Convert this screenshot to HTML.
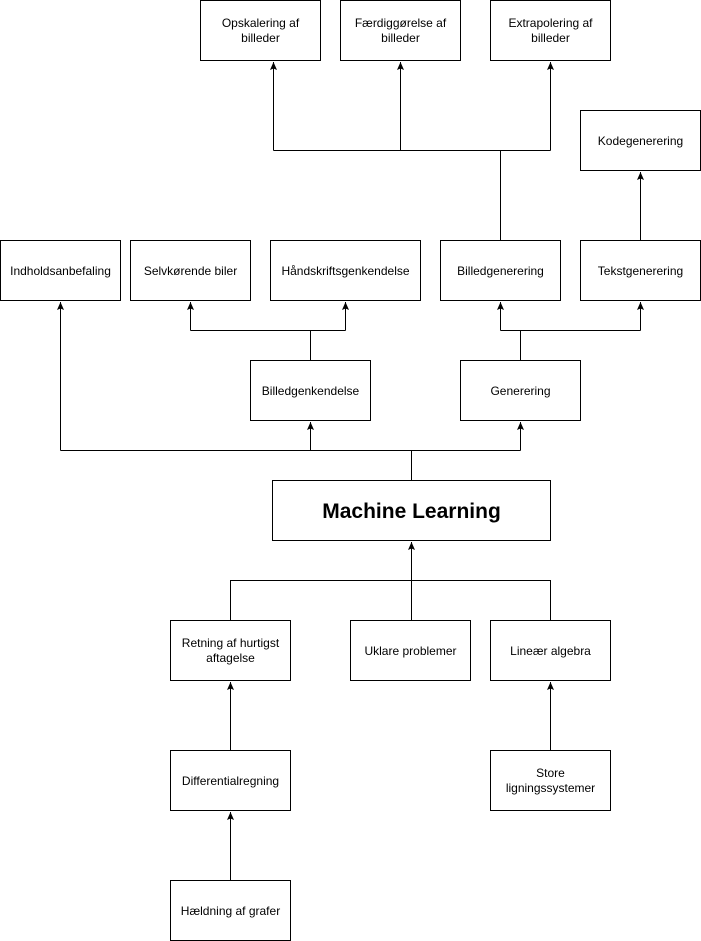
<!DOCTYPE html>
<html><head><style>body{margin:0;background:#fff}svg{display:block}text{font-family:"Liberation Sans",Arial,sans-serif;font-size:12px;fill:#000}</style></head><body>
<svg width="701" height="941" viewBox="0 0 701 941" xmlns="http://www.w3.org/2000/svg">
<defs><marker id="a" markerWidth="9" markerHeight="9" refX="8" refY="4" orient="auto" markerUnits="userSpaceOnUse"><path d="M0,0.5 L8,4 L0,7.5 L1.5,4 Z" fill="#000"/></marker></defs>
<g fill="#fff" stroke="#000" stroke-width="1">
<rect x="200.5" y="0.5" width="120" height="60"/>
<rect x="340.5" y="0.5" width="120" height="60"/>
<rect x="490.5" y="0.5" width="120" height="60"/>
<rect x="580.5" y="110.5" width="120" height="60"/>
<rect x="0.5" y="240.5" width="120" height="60"/>
<rect x="130.5" y="240.5" width="120" height="60"/>
<rect x="270.5" y="240.5" width="150" height="60"/>
<rect x="440.5" y="240.5" width="120" height="60"/>
<rect x="580.5" y="240.5" width="120" height="60"/>
<rect x="250.5" y="360.5" width="120" height="60"/>
<rect x="460.5" y="360.5" width="120" height="60"/>
<rect x="272.5" y="480.5" width="278" height="60"/>
<rect x="170.5" y="620.5" width="120" height="60"/>
<rect x="350.5" y="620.5" width="120" height="60"/>
<rect x="490.5" y="620.5" width="120" height="60"/>
<rect x="170.5" y="750.5" width="120" height="60"/>
<rect x="490.5" y="750.5" width="120" height="60"/>
<rect x="170.5" y="880.5" width="120" height="60"/>
</g>
<g fill="none" stroke="#000" stroke-width="1">
<path d="M411.5,480 V450.5 M60.5,450.5 H520.5"/>
<path d="M60.5,450.5 V302" marker-end="url(#a)"/>
<path d="M310.5,450.5 V422" marker-end="url(#a)"/>
<path d="M520.5,450.5 V422" marker-end="url(#a)"/>
<path d="M310.5,360 V330.5 M190.5,330.5 H345.5"/>
<path d="M190.5,330.5 V302" marker-end="url(#a)"/>
<path d="M345.5,330.5 V302" marker-end="url(#a)"/>
<path d="M520.5,360 V330.5 M500.5,330.5 H640.5"/>
<path d="M500.5,330.5 V302" marker-end="url(#a)"/>
<path d="M640.5,330.5 V302" marker-end="url(#a)"/>
<path d="M640.5,240 V172" marker-end="url(#a)"/>
<path d="M500.5,240 V150.5 M273.5,150.5 H550.5"/>
<path d="M273.5,150.5 V62" marker-end="url(#a)"/>
<path d="M400.5,150.5 V62" marker-end="url(#a)"/>
<path d="M550.5,150.5 V62" marker-end="url(#a)"/>
<path d="M411.5,620 V542" marker-end="url(#a)"/>
<path d="M230.5,620 V580.5 H550.5 V620"/>
<path d="M230.5,750 V682" marker-end="url(#a)"/>
<path d="M230.5,880 V812" marker-end="url(#a)"/>
<path d="M550.5,750 V682" marker-end="url(#a)"/>
</g>
<g text-anchor="middle">
<text x="260.5" y="27">Opskalering af</text><text x="260.5" y="42">billeder</text>
<text x="400.5" y="27">Færdiggørelse af</text><text x="400.5" y="42">billeder</text>
<text x="550.5" y="27">Extrapolering af</text><text x="550.5" y="42">billeder</text>
<text x="640.5" y="145">Kodegenerering</text>
<text x="60.5" y="275">Indholdsanbefaling</text>
<text x="190.5" y="275">Selvkørende biler</text>
<text x="345.5" y="275">Håndskriftsgenkendelse</text>
<text x="500.5" y="275">Billedgenerering</text>
<text x="640.5" y="275">Tekstgenerering</text>
<text x="310.5" y="395">Billedgenkendelse</text>
<text x="520.5" y="395">Generering</text>
<text x="411.5" y="518" style="font-size:21px;font-weight:bold">Machine Learning</text>
<text x="230.5" y="647">Retning af hurtigst</text><text x="230.5" y="662">aftagelse</text>
<text x="410.5" y="655">Uklare problemer</text>
<text x="550.5" y="655">Lineær algebra</text>
<text x="230.5" y="785">Differentialregning</text>
<text x="550.5" y="777">Store</text><text x="550.5" y="792">ligningssystemer</text>
<text x="230.5" y="915">Hældning af grafer</text>
</g>
</svg>
</body></html>
